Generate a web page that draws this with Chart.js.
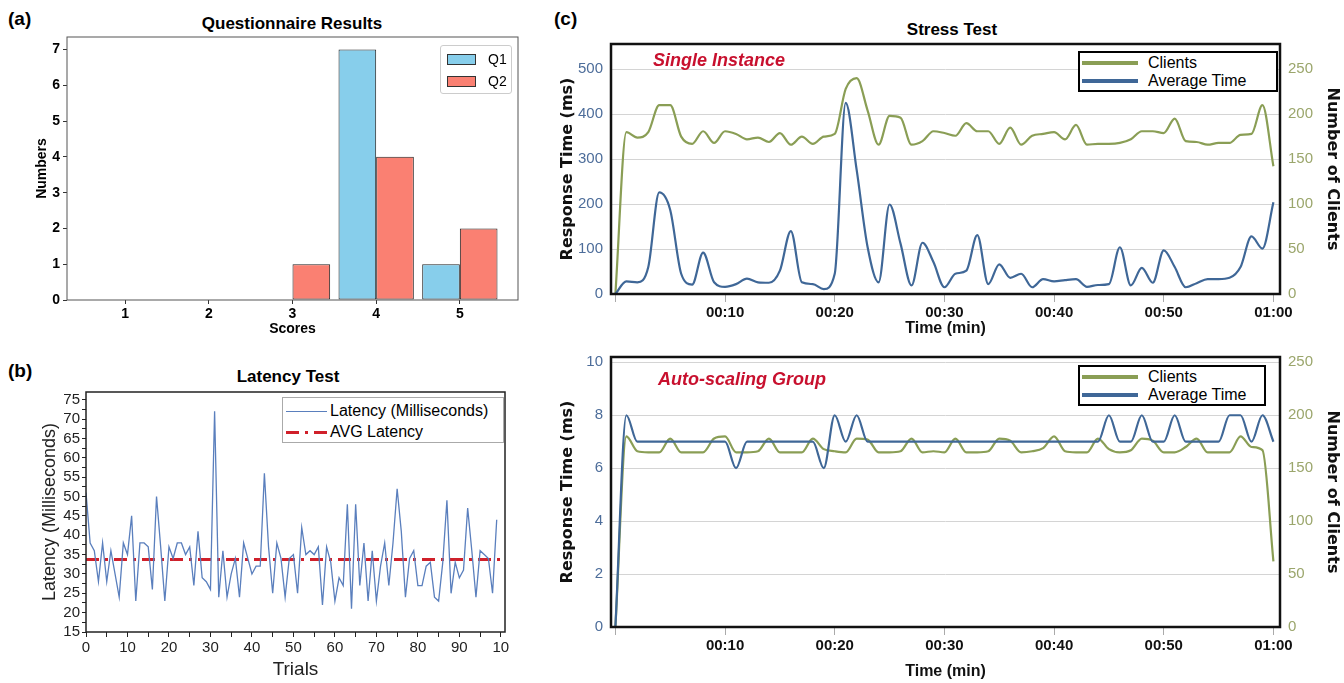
<!DOCTYPE html>
<html>
<head>
<meta charset="utf-8">
<script src="https://cdn.jsdelivr.net/npm/chart.js@4.4.1/dist/chart.umd.min.js"></script>
<style>
  body { margin: 0; width: 1344px; height: 683px; position: relative; overflow: hidden; background: #fff;
         font-family: "Liberation Sans", Arial, sans-serif; color: #000; }
  canvas { position: absolute; }
  .panel { position: absolute; font-weight: bold; font-size: 19px; }
  .title { position: absolute; font-weight: bold; font-size: 17px; transform: translateX(-50%); white-space: nowrap; }
  .tag { position: absolute; font-weight: bold; font-style: italic; font-size: 18px; color: #c8102e;
         font-family: "Liberation Sans Narrow", "Liberation Sans", sans-serif; white-space: nowrap; }
  .legend { position: absolute; background: #fff; box-sizing: border-box; }
  .legend .row { position: absolute; left: 0; right: 0; height: 20px; display: flex; align-items: center; white-space: nowrap; }
  .legend .sw { display: inline-block; box-sizing: border-box; }
</style>
</head>
<body>

<div class="panel" style="left:8px; top:8px;">(a)</div>
<div class="panel" style="left:8px; top:360px;">(b)</div>
<div class="panel" style="left:554px; top:8px;">(c)</div>

<div class="title" style="left:292px; top:14px;">Questionnaire Results</div>
<div class="title" style="left:288px; top:367px;">Latency Test</div>
<div class="title" style="left:952px; top:20px;">Stress Test</div>

<canvas id="chartA" style="left:33px; top:0px;" width="507" height="340"></canvas>
<canvas id="chartB" style="left:36px; top:340px;" width="504" height="343"></canvas>
<canvas id="chartC1" style="left:556px; top:0px;" width="788" height="340"></canvas>
<canvas id="chartC2" style="left:556px; top:340px;" width="788" height="343"></canvas>

<div class="tag" style="left:653px; top:50px;">Single Instance</div>
<div class="tag" style="left:658px; top:369px;">Auto-scaling Group</div>

<!-- legend (a) -->
<div class="legend" style="left:440px; top:45px; width:72px; height:49px; border:1px solid #ccc; border-radius:3px; font-size:14px;">
  <div class="row" style="top:3px;"><span class="sw" style="margin-left:6px; width:29px; height:11px; background:#87ceeb; border:1px solid #333;"></span><span style="margin-left:12px;">Q1</span></div>
  <div class="row" style="top:25px;"><span class="sw" style="margin-left:6px; width:29px; height:11px; background:#fa8072; border:1px solid #333;"></span><span style="margin-left:12px;">Q2</span></div>
</div>

<!-- legend (b) -->
<div class="legend" style="left:282px; top:397px; width:222px; height:46px; border:1px solid #aaa; font-size:16px;">
  <div class="row" style="top:3px;"><span class="sw" style="margin-left:3px; width:41px; border-top:1.3px solid #5a7fbd;"></span><span style="margin-left:3px;">Latency (Milliseconds)</span></div>
  <div class="row" style="top:24px;"><span class="sw" style="margin-left:3px; width:41px; height:3px; background:linear-gradient(90deg,#d0202a 0 13px,transparent 13px 19px,#d0202a 19px 22px,transparent 22px 28px,#d0202a 28px 41px);"></span><span style="margin-left:3px;">AVG Latency</span></div>
</div>

<!-- legends (c) -->
<div class="legend" style="left:1078px; top:51px; width:200px; height:41px; border:2px solid #000; font-size:16px; font-family:'Liberation Sans Narrow','Liberation Sans',sans-serif;">
  <div class="row" style="top:0px;"><span class="sw" style="margin-left:2px; width:56px; height:4px; background:#8a9e55;"></span><span style="margin-left:10px;">Clients</span></div>
  <div class="row" style="top:18px;"><span class="sw" style="margin-left:2px; width:56px; height:4px; background:#3f6797;"></span><span style="margin-left:10px;">Average Time</span></div>
</div>
<div class="legend" style="left:1078px; top:365px; width:188px; height:41px; border:2px solid #000; font-size:16px; font-family:'Liberation Sans Narrow','Liberation Sans',sans-serif;">
  <div class="row" style="top:0px;"><span class="sw" style="margin-left:2px; width:56px; height:4px; background:#8a9e55;"></span><span style="margin-left:10px;">Clients</span></div>
  <div class="row" style="top:18px;"><span class="sw" style="margin-left:2px; width:56px; height:4px; background:#3f6797;"></span><span style="margin-left:10px;">Average Time</span></div>
</div>

<script>
/* data */

const scores = [1, 2, 3, 4, 5];
const q1Counts = [0, 0, 0, 7, 1];
const q2Counts = [0, 0, 1, 4, 2];
const countTicks = [0, 1, 2, 3, 4, 5, 6, 7];

const latency = [
    51, 38, 36, 28, 38, 28, 36, 30, 24, 38,
    35, 45, 23, 38, 38, 37, 26, 50, 37, 23,
    37, 34, 38, 38, 35, 37, 27, 41, 29, 28,
    26, 72, 24, 36, 24, 30, 34, 24, 38, 34,
    30, 32, 32, 56, 37, 25, 38, 34, 24, 34,
    35, 25, 42, 35, 36, 35, 37, 22, 37, 33,
    23, 29, 27, 48, 21, 48, 27, 38, 23, 36,
    23, 32, 38, 27, 38, 52, 41, 24, 34, 36,
    27, 27, 32, 33, 24, 23, 33, 49, 25, 33,
    29, 31, 47, 36, 24, 36, 35, 34, 25, 44
];
const avgLatency = 33.7;
const latencyTicks = [15, 20, 25, 30, 35, 40, 45, 50, 55, 60, 65, 70, 75];
const trialTicks = [0, 10, 20, 30, 40, 50, 60, 70, 80, 90, 100];
const trialLabels = ["0", "10", "20", "30", "40", "50", "60", "70", "80", "90", "10"];

const timeTicks = [0, 10, 20, 30, 40, 50, 60];
const timeLabels = ["", "00:10", "00:20", "00:30", "00:40", "00:50", "01:00"];

const singleAvgTime = [
    0, 28, 26, 60, 226, 187, 45, 21, 92, 26,
    16, 22, 34, 26, 25, 52, 140, 26, 22, 11,
    45, 425, 276, 104, 26, 199, 112, 19, 114, 71,
    15, 45, 52, 131, 22, 66, 36, 45, 15, 33,
    28, 31, 33, 16, 20, 22, 104, 19, 58, 25,
    97, 60, 15, 24, 33, 33, 36, 60, 128, 101,
    204
];
const singleClients = [
    0, 180, 174, 180, 210, 210, 175, 167, 181, 168,
    181, 178, 172, 174, 169, 179, 166, 175, 167, 175,
    178, 228, 240, 204, 166, 198, 196, 166, 170, 181,
    179, 176, 190, 181, 181, 167, 185, 166, 176, 178,
    180, 172, 188, 166, 167, 167, 168, 172, 181, 181,
    179, 195, 170, 169, 166, 168, 168, 177, 178, 210,
    142
];
const singleMsTicks = [0, 100, 200, 300, 400, 500];
const singleClientTicks = [0, 50, 100, 150, 200, 250];

const autoAvgTime = [
    0, 8, 7, 7, 7, 7, 7, 7, 7, 7,
    7, 6, 7, 7, 7, 7, 7, 7, 7, 6,
    8, 7, 8, 7, 7, 7, 7, 7, 7, 7,
    7, 7, 7, 7, 7, 7, 7, 7, 7, 7,
    7, 7, 7, 7, 7, 8, 7, 7, 8, 7,
    7, 8, 7, 7, 7, 7, 8, 8, 7, 8,
    7
];
const autoClients = [
    0, 180, 166, 165, 165, 178, 165, 165, 165, 178,
    180, 165, 165, 166, 178, 165, 165, 165, 178, 168,
    166, 165, 178, 177, 165, 165, 166, 178, 165, 166,
    165, 178, 165, 165, 166, 178, 176, 165, 166, 169,
    180, 166, 165, 165, 178, 168, 165, 167, 178, 176,
    165, 165, 170, 178, 165, 165, 165, 180, 170, 167,
    62
];
const autoMsTicks = [0, 2, 4, 6, 8, 10];
const autoClientTicks = [0, 50, 100, 150, 200, 250];

/* colors + fonts */

const blueLine = "#3f6797";
const greenLine = "#8a9e55";
const msTickColor = "#4d6d9a";
const clientTickColor = "#9ba66c";
const narrow = "'Liberation Sans Narrow', 'Liberation Sans', sans-serif";
const wide = "'DejaVu Sans', sans-serif";
const arial = "'Liberation Sans', Arial, sans-serif";

/* box around the plot area */

const framePlugin = {
    id: "frame",
    afterDatasetsDraw(chart, args, opts) {
        const { ctx, chartArea } = chart;
        ctx.save();
        ctx.strokeStyle = opts.color;
        ctx.lineWidth = opts.width;
        ctx.strokeRect(chartArea.left, chartArea.top,
            chartArea.right - chartArea.left, chartArea.bottom - chartArea.top);
        ctx.restore();
    }
};

function fixedTicks(values) {
    return scale => {
        scale.ticks = values.map(v => ({ value: v }));
    };
}

function withMinor(values) {
    return scale => {
        const ticks = [];
        values.forEach((v, i) => {
            ticks.push({ value: v });
            if (i < values.length - 1) {
                ticks.push({ value: (v + values[i + 1]) / 2 });
            }
        });
        scale.ticks = ticks;
    };
}

function fixWidth(w) {
    return scale => { scale.width = w; };
}

function fixHeight(h) {
    return scale => { scale.height = h; };
}

/* (a) questionnaire */

new Chart(document.getElementById("chartA"), {
    type: "bar",
    data: {
        datasets: [
            {
                label: "Q1",
                data: scores.map((s, i) => ({ x: s, y: q1Counts[i] })),
                backgroundColor: "#87ceeb",
                borderColor: "#222",
                borderWidth: 1,
                borderSkipped: false
            },
            {
                label: "Q2",
                data: scores.map((s, i) => ({ x: s, y: q2Counts[i] })),
                backgroundColor: "#fa8072",
                borderColor: "#222",
                borderWidth: 1,
                borderSkipped: false
            }
        ]
    },
    options: {
        responsive: false,
        animation: false,
        layout: { padding: { top: 37, right: 22, left: 0, bottom: 0 } },
        categoryPercentage: 0.9,
        barPercentage: 1.0,
        plugins: {
            legend: { display: false },
            tooltip: { enabled: false },
            frame: { color: "#555", width: 1 }
        },
        scales: {
            x: {
                type: "linear",
                min: 0.305,
                max: 5.695,
                offset: false,
                afterBuildTicks: fixedTicks(scores),
                afterFit: fixHeight(40),
                grid: { drawOnChartArea: false, offset: false, tickLength: 4, color: "#333" },
                border: { display: false },
                ticks: { font: { family: arial, size: 14, weight: "bold" }, color: "#000", padding: 2 },
                title: { display: true, text: "Scores", font: { family: arial, size: 14, weight: "bold" }, color: "#000", padding: { top: 0, bottom: 2 } }
            },
            y: {
                min: 0,
                max: 7.35,
                afterBuildTicks: fixedTicks(countTicks),
                afterFit: fixWidth(34),
                grid: { drawOnChartArea: false, tickLength: 4, color: "#333" },
                border: { display: false },
                ticks: { font: { family: arial, size: 14, weight: "bold" }, color: "#000", padding: 3 },
                title: { display: true, text: "Numbers", font: { family: arial, size: 14, weight: "bold" }, color: "#000", padding: { top: 1, bottom: 0 } }
            }
        }
    },
    plugins: [framePlugin]
});

/* (b) latency */

new Chart(document.getElementById("chartB"), {
    type: "line",
    data: {
        datasets: [
            {
                label: "Latency (Milliseconds)",
                data: latency.map((v, i) => ({ x: i, y: v })),
                borderColor: "#5a7fbd",
                borderWidth: 1.3,
                pointRadius: 0,
                tension: 0
            },
            {
                label: "AVG Latency",
                data: [{ x: 0, y: avgLatency }, { x: 100, y: avgLatency }],
                borderColor: "#d0202a",
                borderWidth: 3,
                borderDash: [13, 6, 3, 6],
                pointRadius: 0
            }
        ]
    },
    options: {
        responsive: false,
        animation: false,
        layout: { padding: { top: 52, right: 35, left: 0, bottom: 0 } },
        plugins: {
            legend: { display: false },
            tooltip: { enabled: false },
            frame: { color: "#222", width: 1.5 }
        },
        scales: {
            x: {
                type: "linear",
                min: 0,
                max: 101,
                afterBuildTicks: withMinor(trialTicks),
                afterFit: fixHeight(51),
                grid: { drawOnChartArea: false, tickLength: 5, color: "#222" },
                border: { display: false },
                ticks: {
                    autoSkip: false,
                    maxRotation: 0,
                    font: { family: arial, size: 15 },
                    color: "#222",
                    padding: 2,
                    callback: value => {
                        const i = trialTicks.indexOf(value);
                        return i >= 0 ? trialLabels[i] : "";
                    }
                },
                title: { display: true, text: "Trials", font: { family: arial, size: 19 }, color: "#222", padding: { top: 0, bottom: 2 } }
            },
            y: {
                min: 15,
                max: 77,
                afterBuildTicks: withMinor(latencyTicks),
                afterFit: fixWidth(50),
                grid: { drawOnChartArea: false, tickLength: 4, color: "#222" },
                border: { display: false },
                ticks: {
                    autoSkip: false,
                    font: { family: arial, size: 15 },
                    color: "#222",
                    padding: 2,
                    callback: value => latencyTicks.includes(value) ? String(value) : ""
                },
                title: { display: true, text: "Latency (Milliseconds)", font: { family: arial, size: 18 }, color: "#222", padding: { top: 3, bottom: 0 } }
            }
        }
    },
    plugins: [framePlugin]
});

/* (c) stress tests */

function stressChart(canvasId, avgData, clientData, msTicks, clientTicks, msMax, clientMax, padTop, xHeight) {
    return new Chart(document.getElementById(canvasId), {
        type: "line",
        data: {
            datasets: [
                {
                    label: "Average Time",
                    data: avgData.map((v, i) => ({ x: i, y: v })),
                    yAxisID: "y",
                    borderColor: blueLine,
                    borderWidth: 2.2,
                    pointRadius: 0,
                    cubicInterpolationMode: "monotone"
                },
                {
                    label: "Clients",
                    data: clientData.map((v, i) => ({ x: i, y: v })),
                    yAxisID: "y1",
                    borderColor: greenLine,
                    borderWidth: 2.2,
                    pointRadius: 0,
                    cubicInterpolationMode: "monotone"
                }
            ]
        },
        options: {
            responsive: false,
            animation: false,
            layout: { padding: { top: padTop, right: 0, left: 0, bottom: 0 } },
            plugins: {
                legend: { display: false },
                tooltip: { enabled: false },
                frame: { color: "#111", width: 2.5 }
            },
            scales: {
                x: {
                    type: "linear",
                    min: -0.4,
                    max: 60.6,
                    afterBuildTicks: fixedTicks(timeTicks),
                    afterFit: fixHeight(xHeight),
                    grid: { drawOnChartArea: false, tickLength: 8, color: "#aaa" },
                    border: { display: false },
                    ticks: {
                        autoSkip: false,
                        maxRotation: 0,
                        font: { family: narrow, size: 15, weight: "bold" },
                        color: "#111",
                        padding: 2,
                        callback: value => timeLabels[timeTicks.indexOf(value)]
                    },
                    title: { display: true, text: "Time (min)", font: { family: narrow, size: 16, weight: "bold" }, color: "#111", padding: { top: 0, bottom: 2 } }
                },
                y: {
                    position: "left",
                    min: 0,
                    max: msMax,
                    afterBuildTicks: fixedTicks(msTicks),
                    afterFit: fixWidth(55),
                    grid: { color: "#d4d4d4", lineWidth: 1, drawTicks: false },
                    border: { display: false },
                    ticks: { font: { family: narrow, size: 15 }, color: msTickColor, padding: 8 },
                    title: { display: true, text: "Response Time (ms)", font: { family: wide, size: 16, weight: "bold" }, color: "#111", padding: { top: 2, bottom: 0 } }
                },
                y1: {
                    position: "right",
                    min: 0,
                    max: clientMax,
                    afterBuildTicks: fixedTicks(clientTicks),
                    afterFit: fixWidth(64),
                    grid: { drawOnChartArea: false, drawTicks: false },
                    border: { display: false },
                    ticks: { font: { family: narrow, size: 15 }, color: clientTickColor, padding: 8 },
                    title: { display: true, text: "Number of Clients", font: { family: wide, size: 16, weight: "bold" }, color: "#111", padding: { top: 2, bottom: 4 } }
                }
            }
        },
        plugins: [framePlugin]
    });
}

stressChart("chartC1", singleAvgTime, singleClients, singleMsTicks, singleClientTicks, 556, 278, 44, 46);
stressChart("chartC2", autoAvgTime, autoClients, autoMsTicks, autoClientTicks, 10.2, 255, 16, 56);
</script>
</body>
</html>
